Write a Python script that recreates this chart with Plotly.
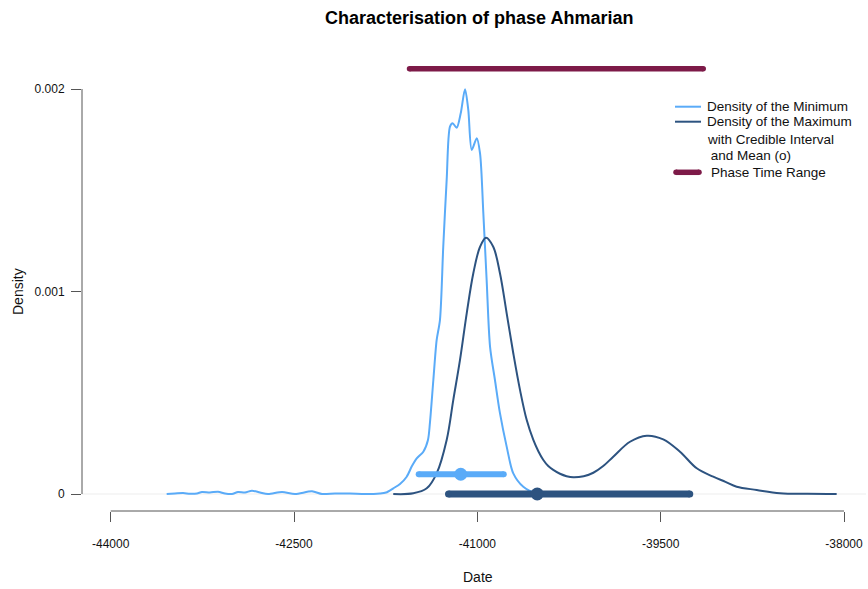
import plotly.graph_objects as go

# ---------------- data ----------------
min_x = [-43542, -43474, -43408, -43351, -43294, -43253, -43188, -43122, -43065, -43008,
         -42958, -42901, -42844, -42778, -42713, -42598, -42492, -42353, -42271, -42165,
         -42042, -41919, -41797, -41747, -41688, -41633, -41578, -41535, -41496, -41442,
         -41404, -41388, -41360, -41333, -41306, -41279, -41251, -41224, -41202, -41169,
         -41136, -41101, -41074, -41046, -41005, -40978, -40951, -40924, -40896, -40856,
         -40815, -40760, -40706, -40624, -40514, -40446]
min_y = [0.0, 0.0000025, 0.0000049, 0.000001, 0.0000025, 0.0000099, 0.0000074, 0.0000114, 0.0000025, 0.0,
         0.0000099, 0.0000074, 0.0000163, 0.0000074, 0.0, 0.0000099, 0.0, 0.0000133, 0.0, 0.0000025,
         0.0000025, 0.0, 0.0000025, 0.0000074, 0.0000281, 0.0000494, 0.0000854, 0.000138, 0.000176, 0.000209,
         0.000267, 0.000351, 0.000563, 0.000760, 0.000859, 0.001221, 0.001551, 0.001814, 0.001831, 0.001809,
         0.001880, 0.001999, 0.001896, 0.001699, 0.001757, 0.001682, 0.001386, 0.001057, 0.000727, 0.000563,
         0.000399, 0.000234, 0.000102, 0.000036, 0.0000035, 0.0]

max_x = [-41688, -41524, -41414, -41333, -41251, -41197, -41142, -41087, -41033, -40978,
         -40929, -40870, -40815, -40760, -40706, -40651, -40596, -40542, -40500, -40460,
         -40420, -40379, -40324, -40270, -40215, -40130, -40051, -39970, -39888, -39751,
         -39614, -39479, -39342, -39205, -39070, -38970, -38878, -38714, -38524, -38300, -38060]
max_y = [0.0, 0.0000035, 0.000028, 0.000102, 0.000267, 0.000464, 0.000662, 0.000892, 0.001090, 0.001221,
         0.001266, 0.001221, 0.001090, 0.000892, 0.000695, 0.000514, 0.000365, 0.000267, 0.000210, 0.000168,
         0.000138, 0.000119, 0.000100, 0.000088, 0.0000825, 0.000088, 0.000105, 0.000138, 0.000184, 0.000258,
         0.000288, 0.000270, 0.000209, 0.000127, 0.0000854, 0.000060, 0.000036, 0.0000198, 0.0000035, 0.0000008, 0.0]

min_ci = [-41480, -40784]
min_mean = -41136
min_ci_level = 0.0000975

max_ci = [-41236, -39262]
max_mean = -40510
max_ci_level = 0.0

phase_range = [-41555, -39152]
phase_level = 0.0021

x_ticks = [-44000, -42500, -41000, -39500, -38000]
y_ticks = [0, 0.001, 0.002]
y_tick_text = ["0", "0.001", "0.002"]

title_text = "Characterisation of phase Ahmarian"
x_title = "Date"
y_title = "Density"
legend_lines = ["Density of the Minimum", "Density of the Maximum",
                "with Credible Interval", " and Mean (o)", "Phase Time Range"]

# ---------------- styling ----------------
C_MIN = "#5AABF8"
C_MAX = "#2D5380"
C_PHASE = "#7D1A48"
FONT = "Liberation Sans, Arial, Helvetica, sans-serif"

W, H = 868, 589
ML, MR, MT, MB = 82, 2, 52, 78
PW, PH = W - ML - MR, H - MT - MB

def pxx(px):
    return (px - ML) / PW

def pxy(py):
    return (H - MB - py) / PH

fig = go.Figure()

fig.add_trace(go.Scatter(x=min_x, y=min_y, mode="lines",
                         line=dict(color=C_MIN, width=2, shape="spline", smoothing=0.8),
                         showlegend=False, hoverinfo="skip"))
fig.add_trace(go.Scatter(x=max_x, y=max_y, mode="lines",
                         line=dict(color=C_MAX, width=2, shape="spline", smoothing=1.0),
                         showlegend=False, hoverinfo="skip"))

def thick_bar(xs, level, color, width):
    fig.add_trace(go.Scatter(x=xs, y=[level] * len(xs), mode="lines+markers",
                             line=dict(color=color, width=width),
                             marker=dict(color=color, size=width, line=dict(width=0)),
                             showlegend=False, hoverinfo="skip"))

thick_bar(min_ci, min_ci_level, C_MIN, 6)
fig.add_trace(go.Scatter(x=[min_mean], y=[min_ci_level], mode="markers",
                         marker=dict(color=C_MIN, size=13, line=dict(width=0)),
                         showlegend=False, hoverinfo="skip"))
thick_bar(max_ci, max_ci_level, C_MAX, 7)
fig.add_trace(go.Scatter(x=[max_mean], y=[max_ci_level], mode="markers",
                         marker=dict(color=C_MAX, size=13, line=dict(width=0)),
                         showlegend=False, hoverinfo="skip"))
thick_bar(phase_range, phase_level, C_PHASE, 5.5)

# axis ranges matching reference pixel mapping
x_px_per_unit = (844.0 - 110.7) / (x_ticks[-1] - x_ticks[0])
x_lo = x_ticks[0] - (110.7 - ML) / x_px_per_unit
x_hi = x_ticks[0] + (W - MR - 110.7) / x_px_per_unit
y_px_per_unit = (494.0 - 89.0) / (y_ticks[-1] - y_ticks[0])
y_lo = -((H - MB) - 494.0) / y_px_per_unit
y_hi = (494.0 - MT) / y_px_per_unit

shapes = []
shapes.append(dict(type="line", xref="paper", yref="y", x0=0, x1=1, y0=0, y1=0,
                   line=dict(color="#EDEDED", width=1), layer="below"))
shapes.append(dict(type="line", xref="x", yref="paper", x0=x_ticks[0], x1=x_ticks[-1], y0=0, y1=0,
                   line=dict(color="#555555", width=1)))
shapes.append(dict(type="line", xref="paper", yref="y", x0=0, x1=0, y0=y_ticks[0], y1=y_ticks[-1],
                   line=dict(color="#555555", width=1)))

# manual legend
leg_y = [106.7, 121.7, 139.0, 155.5, 172.3]
shapes.append(dict(type="line", xref="paper", yref="paper", x0=pxx(675), x1=pxx(701),
                   y0=pxy(leg_y[0]), y1=pxy(leg_y[0]), line=dict(color=C_MIN, width=2)))
shapes.append(dict(type="line", xref="paper", yref="paper", x0=pxx(675), x1=pxx(701),
                   y0=pxy(leg_y[1]), y1=pxy(leg_y[1]), line=dict(color=C_MAX, width=2)))
shapes.append(dict(type="line", xref="paper", yref="paper", x0=pxx(676), x1=pxx(699),
                   y0=pxy(leg_y[4]), y1=pxy(leg_y[4]), line=dict(color=C_PHASE, width=5.5)))
for s in shapes:
    fig.add_shape(s)

# round ends for the legend phase line
fig.add_trace(go.Scatter(x=[pxx(676), pxx(699)], y=[pxy(leg_y[4])] * 2, xaxis="x2", yaxis="y2",
                         mode="markers", marker=dict(color=C_PHASE, size=5.5, line=dict(width=0)),
                         showlegend=False, hoverinfo="skip", cliponaxis=False))

annotations = []
leg_x = [704.5, 704.5, 704.5, 704.5, 708.5]
for txt, lx, ly in zip(legend_lines, leg_x, leg_y):
    annotations.append(dict(text=txt, xref="paper", yref="paper", x=pxx(lx), y=pxy(ly),
                            xanchor="left", yanchor="middle", showarrow=False,
                            font=dict(family=FONT, size=13.5, color="#111111")))
annotations.append(dict(text="<b>" + title_text + "</b>", xref="paper", yref="paper",
                        x=pxx(479.5), y=pxy(17.5), xanchor="center", yanchor="middle",
                        showarrow=False, font=dict(family=FONT, size=18, color="#000000")))
annotations.append(dict(text=x_title, xref="paper", yref="paper", x=pxx(477.5), y=pxy(577),
                        xanchor="center", yanchor="middle", showarrow=False,
                        font=dict(family=FONT, size=14, color="#111111")))
annotations.append(dict(text=y_title, xref="paper", yref="paper", x=pxx(18), y=pxy(292),
                        xanchor="center", yanchor="middle", textangle=-90, showarrow=False,
                        font=dict(family=FONT, size=14, color="#111111")))

fig.update_layout(
    width=W, height=H,
    margin=dict(l=ML, r=MR, t=MT, b=MB, pad=0),
    paper_bgcolor="white", plot_bgcolor="white",
    showlegend=False,
    annotations=annotations,
    xaxis=dict(range=[x_lo, x_hi], showgrid=False, zeroline=False, showline=False,
               tickmode="array", tickvals=x_ticks, ticktext=[str(v) for v in x_ticks],
               ticks="outside", ticklen=10, tickwidth=1, tickcolor="#555555",
               ticklabelstandoff=12,
               tickfont=dict(family=FONT, size=12, color="#111111")),
    yaxis=dict(range=[y_lo, y_hi], showgrid=False, zeroline=False, showline=False,
               tickmode="array", tickvals=y_ticks, ticktext=y_tick_text,
               ticks="outside", ticklen=10, tickwidth=1, tickcolor="#555555",
               ticklabelstandoff=4,
               tickfont=dict(family=FONT, size=12, color="#111111")),
    xaxis2=dict(domain=[0, 1], range=[0, 1], overlaying="x", visible=False, fixedrange=True),
    yaxis2=dict(domain=[0, 1], range=[0, 1], overlaying="y", visible=False, fixedrange=True),
)

fig.write_html("out.html")
